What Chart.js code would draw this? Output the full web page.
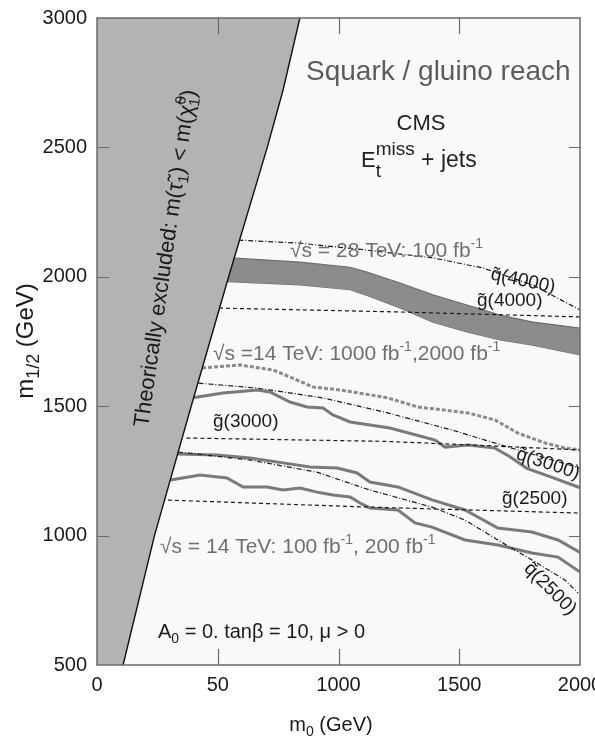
<!DOCTYPE html>
<html>
<head>
<meta charset="utf-8">
<script src="https://cdn.jsdelivr.net/npm/chart.js@4.4.1/dist/chart.umd.min.js"></script>
<style>
html, body { margin: 0; padding: 0; background: #fff; }
</style>
</head>
<body>
<canvas id="myChart" width="595" height="738"></canvas>
<script>
const FONT = '"Liberation Sans", Arial, sans-serif';

// axes
const xMin = 0, xMax = 2000, yMin = 500, yMax = 3000;
const xTickLabels = ['0', '50', '1000', '1500', '2000'];
const yTickLabels = ['500', '1000', '1500', '2000', '2500', '3000'];

// theoretically excluded region boundary
const exclM0  = [108, 238, 390, 545, 705, 770, 840];
const exclM12 = [500, 1000, 1500, 2000, 2500, 2720, 3000];

// 28 TeV, 100 fb-1 reach band
const bandM0    = [520, 841, 1048, 1118, 1255, 1391, 1532, 1669, 1805, 2000];
const bandUpper = [2075, 2057, 2037, 2018, 1976, 1930, 1891, 1852, 1825, 1802];
const bandLower = [1982, 1969, 1950, 1928, 1880, 1825, 1787, 1756, 1736, 1698];

// iso-mass lines
const q4000M0  = [585, 841, 1118, 1391, 1598, 1805, 2000];
const q4000M12 = [2142, 2130, 2103, 2073, 2034, 1968, 1872];
const g4000M0  = [505, 1255, 2000];
const g4000M12 = [1879, 1864, 1845];
const q3000M0  = [420, 663, 936, 1200, 1470, 1607, 1743, 1884, 2000];
const q3000M12 = [1589, 1570, 1532, 1475, 1408, 1369, 1331, 1292, 1261];
const g3000M0  = [370, 1200, 1600, 2000];
const g3000M12 = [1377, 1364, 1348, 1331];
const q2500M0  = [335, 634, 911, 1130, 1387, 1524, 1660, 1801, 1938, 1992];
const q2500M12 = [1323, 1292, 1245, 1176, 1110, 1060, 983, 906, 828, 778];
const g2500M0  = [265, 1130, 2000];
const g2500M12 = [1138, 1110, 1087];

// 14 TeV reach curves
const r1000M0  = [390, 522, 663, 716, 799, 870, 936, 977, 1048, 1213, 1400, 1441, 1536, 1648, 1710, 1780, 1870, 2000];
const r1000M12 = [1532, 1551, 1563, 1555, 1516, 1497, 1493, 1466, 1439, 1416, 1369, 1342, 1350, 1338, 1305, 1260, 1230, 1185];
const r2000M0  = [435, 592, 729, 799, 894, 1006, 1200, 1329, 1536, 1648, 1743, 1855, 1938, 2000];
const r2000M12 = [1648, 1659, 1640, 1613, 1574, 1563, 1533, 1497, 1474, 1447, 1396, 1358, 1338, 1331];
const r200M0   = [335, 497, 634, 770, 882, 994, 1077, 1130, 1246, 1387, 1524, 1660, 1801, 1909, 2000];
const r200M12  = [1315, 1311, 1300, 1281, 1265, 1261, 1242, 1207, 1188, 1138, 1099, 1029, 1014, 983, 935];
const r100M0   = [305, 427, 538, 605, 704, 770, 841, 911, 977, 1048, 1089, 1130, 1246, 1317, 1387, 1524, 1660, 1801, 1909, 2000];
const r100M12  = [1215, 1234, 1223, 1188, 1188, 1176, 1184, 1168, 1157, 1149, 1126, 1107, 1099, 1049, 1033, 983, 964, 933, 917, 859];

function pts(xs, ys) {
  return xs.map((x, i) => ({ x: x, y: ys[i] }));
}

function line(xs, ys, color, width, dash) {
  return {
    data: pts(xs, ys), showLine: true, pointRadius: 0, fill: false,
    borderColor: color, borderWidth: width, borderDash: dash || []
  };
}

// text helpers
function drawParts(ctx, x, y, parts) {
  let cx = x;
  parts.forEach(p => {
    ctx.font = p.size + 'px ' + FONT;
    ctx.fillText(p.t, cx, y + (p.dy || 0));
    if (!p.keep) cx += ctx.measureText(p.t).width;
  });
}
function partsWidth(ctx, parts) {
  let w = 0;
  parts.forEach(p => {
    ctx.font = p.size + 'px ' + FONT;
    if (!p.keep) w += ctx.measureText(p.t).width;
  });
  return w;
}
function rotLabel(ctx, txt, cx, cy, deg, size) {
  ctx.save();
  ctx.translate(cx, cy);
  ctx.rotate(deg * Math.PI / 180);
  ctx.font = size + 'px ' + FONT;
  ctx.textAlign = 'center';
  ctx.textBaseline = 'middle';
  ctx.fillText(txt, 0, 0);
  ctx.restore();
}

const decor = {
  id: 'decor',
  beforeDraw(chart) {
    const { ctx, chartArea: a } = chart;
    ctx.save();
    ctx.fillStyle = '#ffffff';
    ctx.fillRect(0, 0, chart.width, chart.height);
    ctx.fillStyle = '#f9f9f9';
    ctx.fillRect(a.left, a.top, a.right - a.left, a.bottom - a.top);
    ctx.restore();
  },
  afterDatasetsDraw(chart) {
    const { ctx, chartArea: a, scales: { x, y } } = chart;
    ctx.save();
    ctx.strokeStyle = '#6a6a6a';
    ctx.lineWidth = 1.5;
    ctx.strokeRect(a.left, a.top, a.right - a.left, a.bottom - a.top);
    ctx.lineWidth = 1.2;
    ctx.beginPath();
    x.ticks.forEach(t => {
      if (t.value <= xMin || t.value >= xMax) return;
      const px = Math.round(x.getPixelForValue(t.value)) + 0.5;
      ctx.moveTo(px, a.bottom); ctx.lineTo(px, a.bottom - 16);
      ctx.moveTo(px, a.top); ctx.lineTo(px, a.top + 16);
    });
    y.ticks.forEach(t => {
      if (t.value <= yMin || t.value >= yMax) return;
      const py = Math.round(y.getPixelForValue(t.value)) + 0.5;
      ctx.moveTo(a.left, py); ctx.lineTo(a.left + 12, py);
      ctx.moveTo(a.right, py); ctx.lineTo(a.right - 11, py);
    });
    ctx.stroke();
    ctx.restore();
  },
  afterDraw(chart) {
    const ctx = chart.ctx;
    ctx.save();
    ctx.textAlign = 'left';
    ctx.textBaseline = 'alphabetic';

    // headline
    ctx.fillStyle = '#5c5c5c';
    drawParts(ctx, 306, 80, [{ t: 'Squark / gluino reach', size: 28 }]);
    ctx.fillStyle = '#222';
    ctx.textAlign = 'center';
    ctx.font = '22px ' + FONT;
    ctx.fillText('CMS', 421, 130);
    ctx.textAlign = 'left';
    drawParts(ctx, 361, 167, [
      { t: 'E', size: 22 },
      { t: 't', size: 19, dy: 10, keep: true },
      { t: 'miss', size: 19, dy: -12 },
      { t: ' + jets', size: 23 }
    ]);

    // luminosity labels
    ctx.fillStyle = '#707070';
    drawParts(ctx, 290, 257, [
      { t: '√s = 28 TeV: 100 fb', size: 21 }, { t: '-1', size: 14, dy: -9 }
    ]);
    drawParts(ctx, 213, 360, [
      { t: '√s =14 TeV: 1000 fb', size: 21 }, { t: '-1', size: 14, dy: -9 },
      { t: ',2000 fb', size: 21 }, { t: '-1', size: 14, dy: -9 }
    ]);
    drawParts(ctx, 160, 553, [
      { t: '√s = 14 TeV: 100 fb', size: 21 }, { t: '-1', size: 14, dy: -9 },
      { t: ', 200 fb', size: 21 }, { t: '-1', size: 14, dy: -9 }
    ]);

    // mass labels
    ctx.fillStyle = '#1a1a1a';
    drawParts(ctx, 477, 306, [{ t: 'g\u0303(4000)', size: 19 }]);
    drawParts(ctx, 213, 427, [{ t: 'g\u0303(3000)', size: 19 }]);
    drawParts(ctx, 502, 504, [{ t: 'g\u0303(2500)', size: 19 }]);
    rotLabel(ctx, 'q\u0303(4000)', 523, 281, 12, 19);
    rotLabel(ctx, 'q\u0303(3000)', 548, 464, 18, 19);
    rotLabel(ctx, 'q\u0303(2500)', 550, 589, 45, 19);

    // parameters
    drawParts(ctx, 158, 638, [
      { t: 'A', size: 20 }, { t: '0', size: 14, dy: 5 }, { t: ' = 0. tanβ = 10, μ > 0', size: 20 }
    ]);

    // excluded region text
    ctx.save();
    ctx.translate(148, 428);
    ctx.rotate(-81.9 * Math.PI / 180);
    drawParts(ctx, 0, 0, [
      { t: 'Theorically excluded: m(τ\u0303', size: 22 },
      { t: '1', size: 15, dy: 5 },
      { t: ') < m(χ\u0303', size: 22 },
      { t: '0', size: 15, dy: -9, keep: true },
      { t: '1', size: 15, dy: 5 },
      { t: ')', size: 22 }
    ]);
    ctx.restore();

    // axis titles
    const xt = [{ t: 'm', size: 20 }, { t: '0', size: 14, dy: 5 }, { t: ' (GeV)', size: 20 }];
    drawParts(ctx, 331 - partsWidth(ctx, xt) / 2, 731, xt);
    const yt = [{ t: 'm', size: 24 }, { t: '1/2', size: 18, dy: 6 }, { t: ' (GeV)', size: 24 }];
    ctx.save();
    ctx.translate(33, 341);
    ctx.rotate(-Math.PI / 2);
    drawParts(ctx, -partsWidth(ctx, yt) / 2, 0, yt);
    ctx.restore();

    ctx.restore();
  }
};

// shaded excluded area (filled up to the top of the plot) and its edge
const exclusionFill = {
  data: [{ x: xMin, y: yMin }].concat(pts(exclM0, exclM12)),
  showLine: true, pointRadius: 0, borderWidth: 0,
  borderColor: 'rgba(0,0,0,0)',
  fill: 'end', backgroundColor: '#b3b3b3'
};
const exclusionEdge = line(exclM0, exclM12, '#111', 1.4);

const bandTop = line(bandM0, bandUpper, '#6e6e6e', 1.2);
bandTop.fill = { target: 13 };
bandTop.backgroundColor = '#8c8c8c';
const bandBottom = line(bandM0, bandLower, '#6e6e6e', 1.2);

const datasets = [
  exclusionEdge,                                           // 0
  exclusionFill,                                           // 1
  line(q4000M0, q4000M12, '#1a1a1a', 1.2, [5, 2, 1, 2]),   // 2
  line(g4000M0, g4000M12, '#1a1a1a', 1.2, [4, 3]),         // 3
  line(q3000M0, q3000M12, '#1a1a1a', 1.2, [5, 2, 1, 2]),   // 4
  line(g3000M0, g3000M12, '#1a1a1a', 1.2, [4, 3]),         // 5
  line(q2500M0, q2500M12, '#1a1a1a', 1.2, [5, 2, 1, 2]),   // 6
  line(g2500M0, g2500M12, '#1a1a1a', 1.2, [4, 3]),         // 7
  line(r1000M0, r1000M12, '#7a7a7a', 3),                   // 8
  line(r2000M0, r2000M12, '#8a8a8a', 3, [4, 2]),           // 9
  line(r200M0, r200M12, '#7a7a7a', 3),                     // 10
  line(r100M0, r100M12, '#7a7a7a', 3),                     // 11
  bandTop,                                                 // 12
  bandBottom                                               // 13
];

new Chart(document.getElementById('myChart').getContext('2d'), {
  type: 'scatter',
  data: { datasets: datasets },
  options: {
    responsive: false,
    animation: false,
    devicePixelRatio: 1,
    layout: { padding: { top: 18, right: 15, left: 0, bottom: 0 } },
    plugins: { legend: { display: false }, tooltip: { enabled: false } },
    scales: {
      x: {
        type: 'linear', min: xMin, max: xMax,
        grid: { display: false, drawTicks: false },
        border: { display: false },
        ticks: {
          stepSize: 500, autoSkip: false, maxRotation: 0, padding: 8,
          color: '#1a1a1a', font: { family: FONT, size: 20 },
          callback: (v, i) => xTickLabels[i]
        },
        afterFit: s => { s.height = 73; s.paddingLeft = 0; s.paddingRight = 0; }
      },
      y: {
        type: 'linear', min: yMin, max: yMax,
        grid: { display: false, drawTicks: false },
        border: { display: false },
        ticks: {
          stepSize: 500, autoSkip: false, padding: 10,
          color: '#1a1a1a', font: { family: FONT, size: 20 },
          callback: (v, i) => yTickLabels[i]
        },
        afterFit: s => { s.width = 97; s.paddingTop = 0; s.paddingBottom = 0; }
      }
    }
  },
  plugins: [decor]
});
</script>
</body>
</html>
